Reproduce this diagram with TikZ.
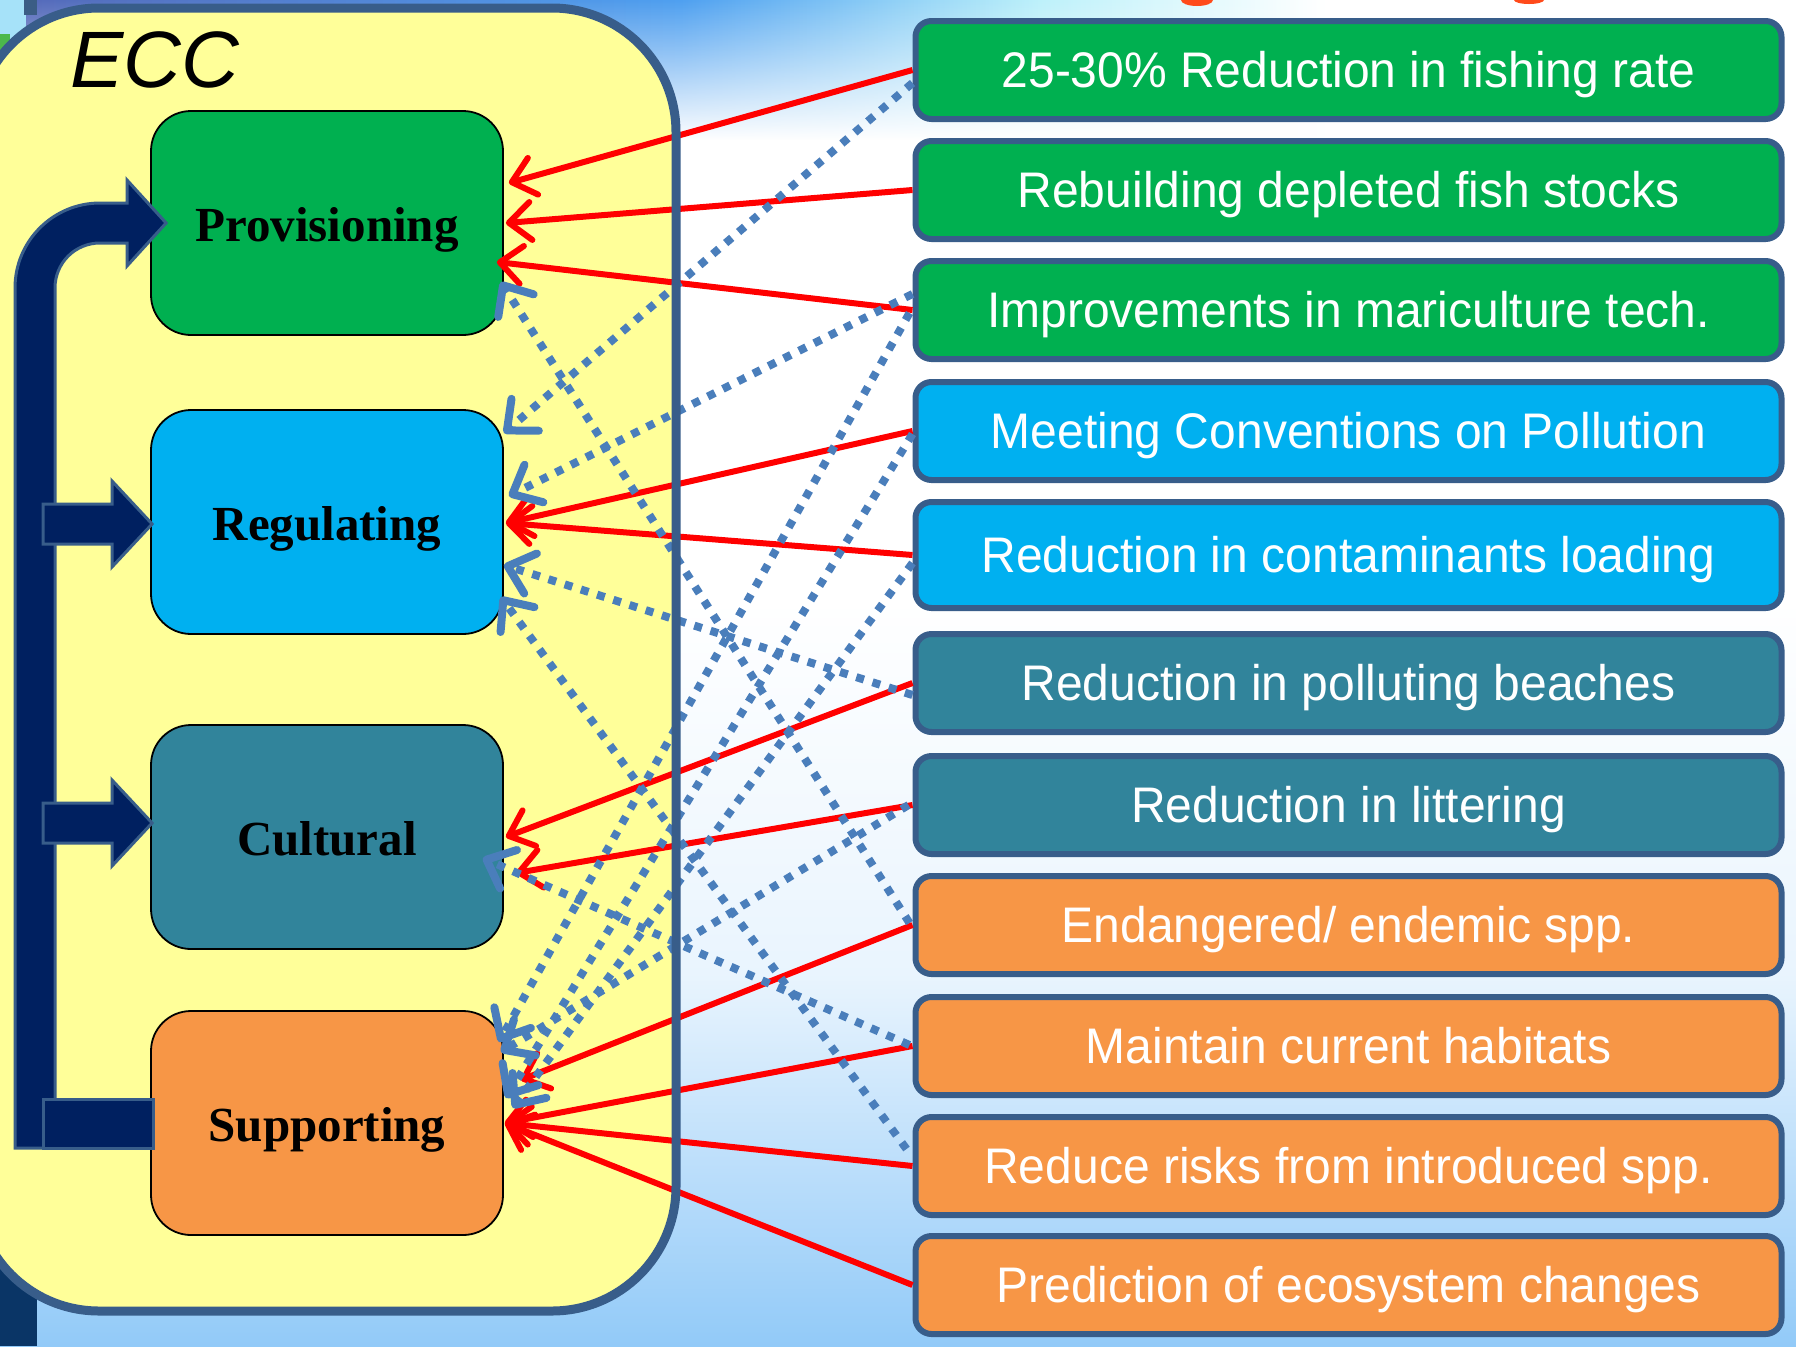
\documentclass[tikz,border=0pt]{standalone}
\usepackage{fontspec}
\newfontfamily\sansf{Liberation Sans}
\newfontfamily\serifb{Liberation Serif}
\usetikzlibrary{arrows.meta,calc,fadings}

\definecolor{provgreen}{HTML}{00B050}
\definecolor{regblue}{HTML}{00B0F0}
\definecolor{cultteal}{HTML}{31849B}
\definecolor{supporange}{HTML}{F79646}
\definecolor{eccyellow}{HTML}{FFFF99}
\definecolor{frameblue}{HTML}{385D8A}
\definecolor{navy}{HTML}{002060}
\definecolor{linkblue}{HTML}{4A7EBB}
\definecolor{linkred}{HTML}{FF0000}
\definecolor{skyA}{HTML}{5568B8}
\definecolor{skyB}{HTML}{4FA0F0}
\definecolor{skyC}{HTML}{BDF1FA}
\definecolor{seablue}{HTML}{92CAF8}
\definecolor{stripblue}{HTML}{0A3566}
\definecolor{titleorange}{HTML}{FF4A1A}

\tikzfading[name=fadedown, top color=transparent!0, bottom color=transparent!100]
\pgfdeclarehorizontalshading{skyband}{100bp}{color(0bp)=(skyA); color(25bp)=(skyA); color(44bp)=(skyB); color(54bp)=(skyC); color(62bp)=(white); color(100bp)=(white)}

% slightly narrowed sans text for the target boxes
\newcommand{\goaltext}[1]{\scalebox{0.96}[1]{#1}}

\tikzset{
  corebox/.style={rectangle, rounded corners=20pt, draw=black, line width=0.9pt,
    minimum width=176pt, minimum height=112pt, inner sep=0pt,
    text height=18.2pt, text depth=0pt,
    font=\serifb\bfseries\fontsize{24.5}{28}\selectfont, text=black},
  goalbox/.style={rectangle, rounded corners=8pt, draw=frameblue, line width=3pt,
    minimum width=433pt, minimum height=49pt, inner sep=0pt,
    text height=17.9pt, text depth=0pt,
    font=\sansf\fontsize{25}{28}\selectfont, text=white},
  redlink/.style={draw=linkred, line width=3pt,
    -{Straight Barb[length=11pt,width=19pt,round]}},
  bluelink/.style={draw=linkblue, line width=4pt, dash pattern=on 4pt off 4.5pt,
    -{Straight Barb[length=12pt,width=21pt,round]}},
  flowshape/.style={fill=navy, draw=frameblue, line width=1.5pt, line join=miter}
}

\begin{document}
\begin{tikzpicture}[x=0.5pt, y=-0.5pt]
\useasboundingbox (0,0) rectangle (1796,1346);
\clip (0,0) rectangle (1796,1346);

% sky and sea backdrop
\fill[white] (0,0) rectangle (1796,1346);
\shade[shading=skyband, path fading=fadedown] (0,0) rectangle (1796,140);
\shade[top color=white, bottom color=seablue, middle color=white!80!seablue] (0,600) rectangle (1796,1346);
\fill[titleorange] (1197,0) ellipse [x radius=16, y radius=6];
\fill[titleorange] (1529,0) ellipse [x radius=15, y radius=4];

% corner bits of the slide behind the frame
\fill[stripblue] (0,1150) rectangle (37,1346);
\fill[cyan!35] (0,0) rectangle (26,48);
\fill[green!60!black!70] (0,34) rectangle (10,52);
\fill[stripblue!80] (24,0) rectangle (37,15);

% ECC frame fill
\fill[eccyellow, rounded corners=62pt] (-25,8) rectangle (676,1311);

% ecosystem service categories
\node[corebox, fill=provgreen]  (prov) at (327,223)  {Provisioning};
\node[corebox, fill=regblue]    (reg)  at (327,522)  {Regulating};
\node[corebox, fill=cultteal]   (cult) at (327,837)  {Cultural};
\node[corebox, fill=supporange] (supp) at (327,1123) {Supporting};

% management targets
\node[goalbox, fill=provgreen]  (g1)  at (1348.5,70)   {\goaltext{25-30\% Reduction in fishing rate}};
\node[goalbox, fill=provgreen]  (g2)  at (1348.5,190)  {\goaltext{Rebuilding depleted fish stocks}};
\node[goalbox, fill=provgreen]  (g3)  at (1348.5,310)  {\goaltext{Improvements in mariculture tech.}};
\node[goalbox, fill=regblue]    (g4)  at (1348.5,431)  {\goaltext{Meeting Conventions on Pollution}};
\node[goalbox, fill=regblue, minimum height=53pt] (g5) at (1348.5,555) {\goaltext{Reduction in contaminants loading}};
\node[goalbox, fill=cultteal]   (g6)  at (1348.5,683)  {\goaltext{Reduction in polluting beaches}};
\node[goalbox, fill=cultteal]   (g7)  at (1348.5,805)  {\goaltext{Reduction in littering}};
\node[goalbox, fill=supporange] (g8)  at (1348.5,925)  {\goaltext{Endangered/ endemic spp.}};
\node[goalbox, fill=supporange] (g9)  at (1348.5,1046) {\goaltext{Maintain current habitats}};
\node[goalbox, fill=supporange] (g10) at (1348.5,1166) {\goaltext{Reduce risks from introduced spp.}};
\node[goalbox, fill=supporange] (g11) at (1348.5,1285) {\goaltext{Prediction of ecosystem changes}};

% primary links
\draw[redlink] (g1.west)  -- ($(prov.east)+(5,-40)$);
\draw[redlink] (g2.west)  -- ($(prov.east)+(2,0)$);
\draw[redlink] (g3.west)  -- ($(prov.east)+(-7,39)$);
\draw[redlink] (g4.west)  -- ($(reg.east)+(2,1)$);
\draw[redlink] (g5.west)  -- ($(reg.east)+(2,1)$);
\draw[redlink] (g6.west)  -- ($(cult.east)+(2,0)$);
\draw[redlink] (g7.west)  -- ($(cult.east)+(12,36)$);
\draw[redlink] (g8.west)  -- ($(supp.east)+(17,-43)$);
\draw[redlink] (g9.west)  -- ($(supp.east)+(1,0)$);
\draw[redlink] (g10.west) -- ($(supp.east)+(1,0)$);
\draw[redlink] (g11.west) -- ($(supp.east)+(1,0)$);

% secondary links
\draw[bluelink] ($(g1.west)+(0,13)$)   -- ($(reg.east)+(0,-89)$);
\draw[bluelink] ($(g3.west)+(0,-16)$)  -- ($(reg.east)+(5,-26)$);
\draw[bluelink] ($(g3.west)+(-3,3)$)   -- ($(supp.east)+(-5,-81)$);
\draw[bluelink] ($(g6.west)+(0,12)$)   -- ($(reg.east)+(0,43)$);
\draw[bluelink] ($(g8.west)+(-3,-2)$)  -- ($(prov.east)+(-3,59)$);
\draw[bluelink] ($(g10.west)+(-6,-17)$) -- ($(reg.east)+(-3,75)$);
\draw[bluelink] ($(g9.west)+(-3,-1)$)  -- ($(cult.east)+(-21,21)$);
\draw[bluelink] ($(g4.west)+(0,3)$)    -- ($(supp.east)+(2,-25)$);
\draw[bluelink] ($(g5.west)+(0,8)$)    -- ($(supp.east)+(9,-15)$);
\draw[bluelink] ($(g7.west)+(-4,0)$)   -- ($(supp.east)+(-3,-71)$);

% ECC frame outline
\draw[frameblue, line width=4.5pt, rounded corners=62pt] (-25,8) rectangle (676,1311);

% feedback loop from Supporting to the other services
\path[flowshape] (15,1148) -- (15,288) .. controls (15,241) and (53,203) .. (100,203)
  -- (127,203) -- (127,180) -- ($(prov.west)+(16,0)$) -- (127,266) -- (127,243) -- (100,243)
  .. controls (75,243) and (55,263) .. (55,288) -- (55,1148) -- cycle;
\path[flowshape] (43,504) -- (112,504) -- (112,481) -- ($(reg.west)+(2,2)$)
  -- (112,567) -- (112,544) -- (43,544) -- cycle;
\path[flowshape] (43,803) -- (112,803) -- (112,780) -- ($(cult.west)+(2,-14)$)
  -- (112,866) -- (112,843) -- (43,843) -- cycle;
\path[flowshape] (43,1099) rectangle ($(supp.west)+(3,25)$);

\node[font=\sansf\itshape\fontsize{40}{44}\selectfont, anchor=base west, inner sep=0pt]
  (ecctitle) at (70,87) {ECC};
\end{tikzpicture}
\end{document}
